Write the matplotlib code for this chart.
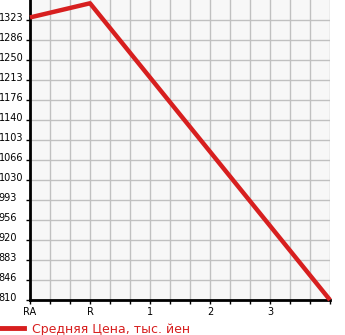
import matplotlib
matplotlib.use("Agg")
import matplotlib.pyplot as plt
import matplotlib.transforms as mtransforms
from matplotlib.lines import Line2D
import numpy as np

categories = ["RA", "R", "1", "2", "3", ""]
values = [1328, 1354, 1218, 1082, 946, 810]
y_min = 810
y_max = 1360
y_ticks = [810 + i * (1360 - 810) / 15 for i in range(15)]
y_tick_labels = ["810", "846", "883", "920", "956", "993", "1030", "1066",
                 "1103", "1140", "1176", "1213", "1250", "1286", "1323"]
legend_label = "Средняя Цена, тыс. йен"

W, H = 345, 335
fig = plt.figure(figsize=(W / 100, H / 100), dpi=100)
ax = fig.add_axes([30 / W, (H - 300) / H, 300 / W, 300 / H])
ax.set_facecolor("#f7f7f7")

x = np.arange(len(categories))
ax.plot(x, values, color="#d71f1f", linewidth=3.2, solid_capstyle="butt",
        clip_on=False, zorder=3)

ax.set_xlim(0, len(categories) - 1)
ax.set_ylim(y_min, y_max)

ax.set_xticks(x)
ax.set_xticklabels(categories, fontsize=7)
ax.set_xticks(np.arange(0, len(categories) - 1 + 1e-9, 1 / 3), minor=True)
ax.set_yticks(y_ticks)
ax.set_yticklabels(y_tick_labels, fontsize=7, ha="left")

ax.tick_params(axis="x", which="both", length=3, width=1, color="black",
               pad=2, direction="out")
ax.tick_params(axis="y", which="both", length=3, width=1, color="black",
               pad=27 * 72 / 100, direction="out")

offset = mtransforms.ScaledTranslation(0, 3 / 100, fig.dpi_scale_trans)
for lbl in ax.get_yticklabels():
    lbl.set_transform(lbl.get_transform() + offset)

ax.grid(True, which="minor", axis="x", color="#c0c0c0", linewidth=1)
ax.grid(True, which="major", axis="x", color="#c0c0c0", linewidth=1)
ax.grid(True, which="major", axis="y", color="#c0c0c0", linewidth=1)
ax.set_axisbelow(True)

for s in ["top", "right"]:
    ax.spines[s].set_visible(False)
for s in ["left", "bottom"]:
    ax.spines[s].set_linewidth(2)
    ax.spines[s].set_color("black")

handle = Line2D([0], [0], color="#d71f1f", linewidth=3.5)
leg = fig.legend([handle], [legend_label], loc="lower left",
                 bbox_to_anchor=(-2 / W, -3 / H), frameon=False, fontsize=9,
                 handlelength=1.85, handletextpad=0.7, borderaxespad=0,
                 borderpad=0.2)
for t in leg.get_texts():
    t.set_color("#d71f1f")

fig.savefig("out.png", dpi=100)
